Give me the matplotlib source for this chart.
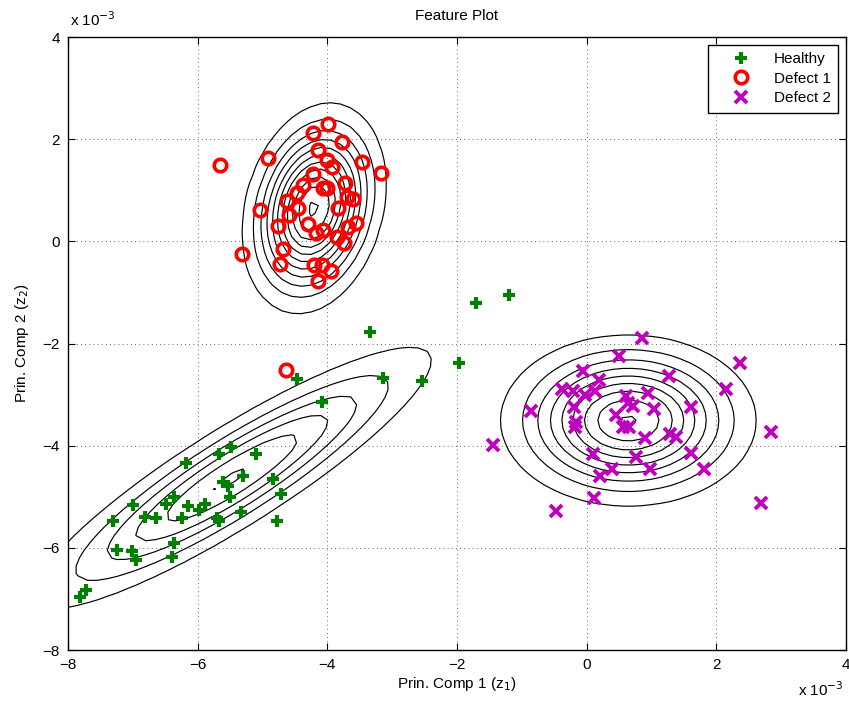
import numpy as np
import matplotlib
matplotlib.use("Agg")
import matplotlib.pyplot as plt

plt.rcParams['font.family'] = ['Liberation Sans', 'DejaVu Sans']

# ---------------- data (units of 1e-3) ----------------
healthy_x = [-3.342, -4.472, -3.137, -2.544, -4.087, -5.490, -5.666, -5.095, -6.180, -5.305,
             -5.614, -5.527, -4.833, -4.719, -5.501, -6.365, -6.488, -6.993, -6.144, -5.887,
             -5.979, -6.812, -6.643, -6.246, -5.706, -5.671, -5.336, -7.301, -4.781, -6.365,
             -7.249, -7.017, -6.951, -6.391, -7.722, -7.815, -1.707, -1.198, -1.969]
healthy_y = [-1.769, -2.695, -2.682, -2.729, -3.152, -4.021, -4.164, -4.170, -4.346, -4.594,
             -4.706, -4.790, -4.653, -4.947, -5.000, -5.000, -5.148, -5.162, -5.182, -5.148,
             -5.260, -5.391, -5.411, -5.411, -5.423, -5.475, -5.293, -5.470, -5.470, -5.912,
             -6.043, -6.057, -6.239, -6.174, -6.826, -6.957, -1.208, -1.051, -2.382]

defect1_x = [-3.985, -4.216, -3.769, -4.910, -4.148, -4.010, -3.923, -3.460, -3.177, -4.216,
             -4.380, -4.062, -4.010, -3.727, -4.472, -4.617, -3.701, -3.599, -4.457, -5.038,
             -3.831, -4.586, -4.756, -4.303, -4.071, -4.175, -3.562, -3.676, -3.846, -3.743,
             -5.316, -4.688, -4.730, -4.205, -4.087, -3.948, -4.139, -5.655, -4.637]
defect1_y = [2.291, 2.126, 1.939, 1.631, 1.788, 1.592, 1.461, 1.553, 1.332, 1.312,
             1.103, 1.050, 1.038, 1.136, 0.940, 0.789, 0.874, 0.828, 0.658, 0.613,
             0.646, 0.515, 0.306, 0.333, 0.222, 0.157, 0.365, 0.286, 0.090, -0.027,
             -0.248, -0.144, -0.450, -0.464, -0.464, -0.581, -0.777, 1.494, -2.519]

defect2_x = [0.859, 0.504, 2.366, -0.052, 0.195, 1.275, -0.385, -0.206, -0.025, 0.129,
             0.603, 0.942, 2.145, -0.863, -0.190, 0.643, 0.720, 1.039, 1.610, 0.453,
             -0.169, -0.180, 0.556, 0.658, 0.900, 1.286, 1.378, 2.844, -1.440, 0.103,
             1.610, 0.761, 0.396, 0.977, 1.810, 0.206, 0.114, 2.689, -0.473]
defect2_y = [-1.899, -2.239, -2.388, -2.539, -2.715, -2.637, -2.897, -2.930, -3.009, -2.930,
             -3.022, -2.975, -2.897, -3.316, -3.238, -3.171, -3.224, -3.289, -3.249, -3.400,
             -3.531, -3.629, -3.629, -3.641, -3.856, -3.772, -3.837, -3.739, -3.987, -4.170,
             -4.138, -4.217, -4.457, -4.451, -4.463, -4.594, -5.031, -5.129, -5.280]

# Gaussian density contour parameters per class
class_names = ['Healthy', 'Defect 1', 'Defect 2']
class_means = [(-5.47, -4.633), (-4.205, 0.646), (0.643, -3.508)]
class_cov = [[[2.614, 1.954], [1.954, 1.811]],
             [[0.253, 0.1057], [0.1057, 0.880]],
             [[0.876, 0.0], [0.0, 0.634]]]
class_peak_ratio = [6.1, 11.2, 9.1]   # peak density / contour spacing

tick_vals = [-8, -6, -4, -2, 0, 2, 4]

# ---------------- figure ----------------
fig = plt.figure(figsize=(8.49, 7.06), dpi=100)
ax = fig.add_axes([68/849, 1-650/706, 778/849, 613/706])

gx = np.arange(-8, 4.0001, 0.15)
gy = np.arange(-8, 4.0001, 0.15)
GX, GY = np.meshgrid(gx, gy)
for mean, cov, pr in zip(class_means, class_cov, class_peak_ratio):
    C = np.array(cov)
    Ci = np.linalg.inv(C)
    dx = GX - mean[0]
    dy = GY - mean[1]
    q = Ci[0, 0]*dx*dx + 2*Ci[0, 1]*dx*dy + Ci[1, 1]*dy*dy
    peak = 1.0/(2*np.pi*np.sqrt(np.linalg.det(C)))
    Z = peak*np.exp(-0.5*q)
    step = peak/pr
    levels = step*np.arange(1, int(np.floor(pr))+1)
    ax.contour(GX, GY, Z, levels=levels, colors='k', linewidths=0.85)

green = '#007f00'
red = '#ff0000'
mag = '#bf00bf'
ax.plot(healthy_x, healthy_y, linestyle='none', marker='+', color=green,
        markersize=9, markeredgewidth=3, label=class_names[0], zorder=3)
ax.plot(defect1_x, defect1_y, linestyle='none', marker='o', markerfacecolor='none',
        markeredgecolor=red, markersize=9, markeredgewidth=2.6, label=class_names[1], zorder=3)
ax.plot(defect2_x, defect2_y, linestyle='none', marker='x', color=mag,
        markersize=8, markeredgewidth=2.8, label=class_names[2], zorder=3)

ax.set_xlim(-8, 4)
ax.set_ylim(-8, 4)
ax.set_xticks(tick_vals)
ax.set_yticks(tick_vals)
ax.set_xticklabels([str(v).replace('-', '\u2212') for v in tick_vals])
ax.set_yticklabels([str(v).replace('-', '\u2212') for v in tick_vals])
ax.tick_params(direction='in', length=5, width=0.8, labelsize=11, top=True, right=True,
               labeltop=False, labelright=False, pad=6)
ax.grid(True, color='k', linestyle=(0, (1, 4)), linewidth=0.6, alpha=0.8)
for s in ax.spines.values():
    s.set_linewidth(1.0)

ax.set_title('Feature Plot', fontsize=11, pad=12)
ax.set_xlabel('Prin. Comp 1 (z$_1$)', fontsize=11, labelpad=2)
ax.set_ylabel('Prin. Comp 2 (z$_2$)', fontsize=11, labelpad=8)

fig.text(70/849, 1-20/706, 'x 10$^{-3}$', fontsize=11, ha='left', va='center')
fig.text(798/849, 1-690/706, 'x 10$^{-3}$', fontsize=11, ha='left', va='center')

leg = ax.legend(loc='upper right', fontsize=11, frameon=True, fancybox=False,
                edgecolor='k', framealpha=1, borderpad=0.5, handlelength=3.3,
                handletextpad=0.5, labelspacing=0.35, borderaxespad=0.5)
leg.get_frame().set_linewidth(1.0)

fig.savefig('out.png', dpi=100)
